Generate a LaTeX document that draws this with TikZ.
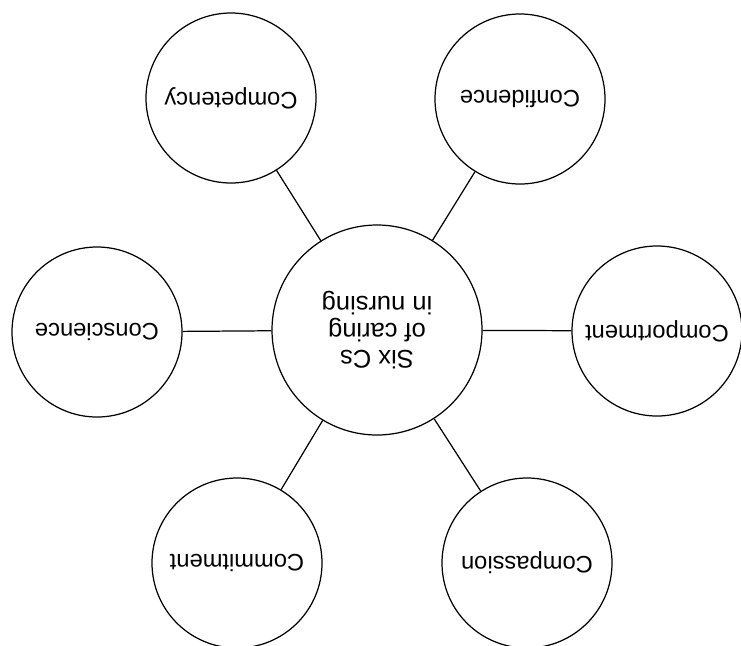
\documentclass[tikz,border=0pt]{standalone}
\usepackage{fontspec}
\setmainfont{Liberation Sans}
\usepackage{tikz}

\tikzset{
	ccircle/.style={draw, circle, line width=.7pt, minimum size=3.4cm, inner sep=0pt, rotate=180, font=\fontsize{13.5}{16}\selectfont},
	hub/.style={draw, circle, line width=.7pt, minimum size=4.2cm, inner sep=0pt, rotate=180, align=center, font=\fontsize{14.5}{15.5}\selectfont},
	spoke/.style={line width=.7pt}
}

\begin{document}
\begin{tikzpicture}
		\useasboundingbox (0,0) rectangle (741/50,-645/50);
		% Center
		\node[hub] (six) at (377/50,-330/50) {Six Cs\\of caring\\in nursing};
		% Top row
		\node[ccircle] (competency) at (231/50,-98/50) {Competency};
		\node[ccircle] (confidence) at (520/50,-99/50) {Confidence};
		% Middle row
		\node[ccircle] (conscience) at (97/50,-332/50) {Conscience};
		\node[ccircle] (comportment) at (657/50,-331/50) {Comportment};
		% Bottom row
		\node[ccircle] (commitment) at (237/50,-563/50) {Commitment};
		\node[ccircle] (compassion) at (527/50,-563/50) {Compassion};
		% Draw spokes
		\draw[spoke] (six) -- (competency);
		\draw[spoke] (six) -- (confidence);
		\draw[spoke] (six) -- (conscience);
		\draw[spoke] (six) -- (comportment);
		\draw[spoke] (six) -- (commitment);
		\draw[spoke] (six) -- (compassion);
	\end{tikzpicture}
\end{document}
